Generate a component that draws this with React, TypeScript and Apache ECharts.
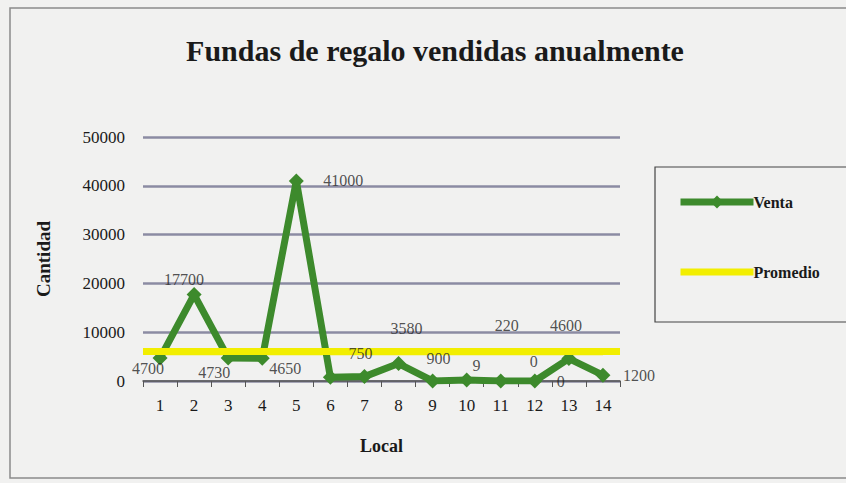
import React, { useEffect, useRef } from "react";
import * as echarts from "echarts";

const categories = ["1", "2", "3", "4", "5", "6", "7", "8", "9", "10", "11", "12", "13", "14"];
const venta = [4700, 17700, 4730, 4650, 41000, 750, 900, 3580, 9, 220, 0, 0, 4600, 1200];
const promedio = [6003, 6003, 6003, 6003, 6003, 6003, 6003, 6003, 6003, 6003, 6003, 6003, 6003, 6003];
const yTicks = { min: 0, max: 50000, interval: 10000 };

// label placement (style only)
const labelOffsets: [number, number][] = [
  [-12, 10], [-10, -15], [-14, 15], [23, 10], [47, 0], [30, -24], [74, -18],
  [8, -35], [44, -15], [40, -54], [33, -20], [26, 0], [-3, -33], [36, 0],
];

const SERIF = "'Liberation Serif', 'DejaVu Serif', serif";
const GREEN = "#3d8a2c";
const YELLOW = "#f2ee00";

export default function App() {
  const ref = useRef<HTMLDivElement>(null);
  useEffect(() => {
    document.body.style.margin = "0";
    const chart = echarts.init(ref.current!, null, { renderer: "svg" });
    chart.setOption({
      animation: false,
      backgroundColor: "#f1f1f0",
      title: {
        text: "Fundas de regalo vendidas anualmente",
        left: 430,
        top: 30,
        textAlign: "center",
        textStyle: { fontFamily: SERIF, fontSize: 30, fontWeight: "bold", color: "#1a1a1a" },
      },
      graphic: [
        {
          type: "rect",
          shape: { x: 10, y: 8, width: 850, height: 470 },
          style: { fill: "none", stroke: "#8a8a8a", lineWidth: 1.5 },
          silent: true,
        },
        {
          type: "rect",
          shape: { x: 655, y: 167, width: 200, height: 155 },
          style: { fill: "none", stroke: "#444", lineWidth: 1.2 },
          silent: true,
        },
      ],
      legend: {
        orient: "vertical",
        left: 672,
        top: 189,
        itemWidth: 73,
        itemHeight: 16,
        itemGap: 54,
        data: [
          { name: "Venta" },
          { name: "Promedio", itemStyle: { opacity: 0 } },
        ],
        lineStyle: { width: 7 },
        textStyle: { fontFamily: SERIF, fontSize: 16, fontWeight: "bold", color: "#1a1a1a", padding: [0, 0, 0, -5] },
      },
      grid: { left: 143, top: 137, width: 477, height: 244, containLabel: false },
      xAxis: {
        type: "category",
        data: categories,
        boundaryGap: true,
        name: "Local",
        nameLocation: "middle",
        nameGap: 56,
        nameTextStyle: { fontFamily: SERIF, fontSize: 18, fontWeight: "bold", color: "#1a1a1a" },
        axisLine: { lineStyle: { color: "#555", width: 1.5 } },
        axisTick: { show: true, alignWithLabel: false, length: 6, lineStyle: { color: "#555" } },
        axisLabel: { fontFamily: SERIF, fontSize: 17, color: "#1a1a1a", margin: 16 },
      },
      yAxis: {
        type: "value",
        min: yTicks.min,
        max: yTicks.max,
        interval: yTicks.interval,
        name: "Cantidad",
        nameLocation: "middle",
        nameGap: 90,
        nameRotate: 90,
        nameTextStyle: { fontFamily: SERIF, fontSize: 19, fontWeight: "bold", color: "#1a1a1a" },
        axisLine: { show: false },
        axisTick: { show: false },
        axisLabel: { fontFamily: SERIF, fontSize: 17, color: "#1a1a1a", margin: 18, formatter: (v: number) => String(v) },
        splitLine: { lineStyle: { color: "#8b8ba3", width: 2.5 } },
      },
      series: [
        {
          name: "Promedio",
          type: "line",
          data: promedio,
          showSymbol: false,
          symbol: "none",
          z: 2,
          lineStyle: { color: YELLOW, width: 7 },
          itemStyle: { color: YELLOW },
          markLine: {
            silent: true,
            z: 4,
            symbol: "none",
            label: { show: false },
            lineStyle: { color: YELLOW, width: 7, type: "solid" },
            data: [{ yAxis: promedio[0] }],
          },
        },
        {
          name: "Venta",
          type: "line",
          z: 3,
          data: venta,
          symbol: "diamond",
          symbolSize: 15,
          lineStyle: { color: GREEN, width: 7 },
          itemStyle: { color: GREEN },
        },
        {
          name: "VentaLabels",
          type: "scatter",
          z: 10,
          silent: true,
          symbolSize: 2,
          data: venta.map((v, i) => ({ value: v, label: { offset: labelOffsets[i] } })),
          itemStyle: { color: "rgba(0,0,0,0)" },
          label: {
            show: true,
            position: "inside",
            align: "center",
            verticalAlign: "middle",
            fontFamily: SERIF,
            fontSize: 16,
            color: "#262626",
          },
        },
      ],
    });
    return () => chart.dispose();
  }, []);
  return <div ref={ref} style={{ width: 846, height: 483 }} />;
}
